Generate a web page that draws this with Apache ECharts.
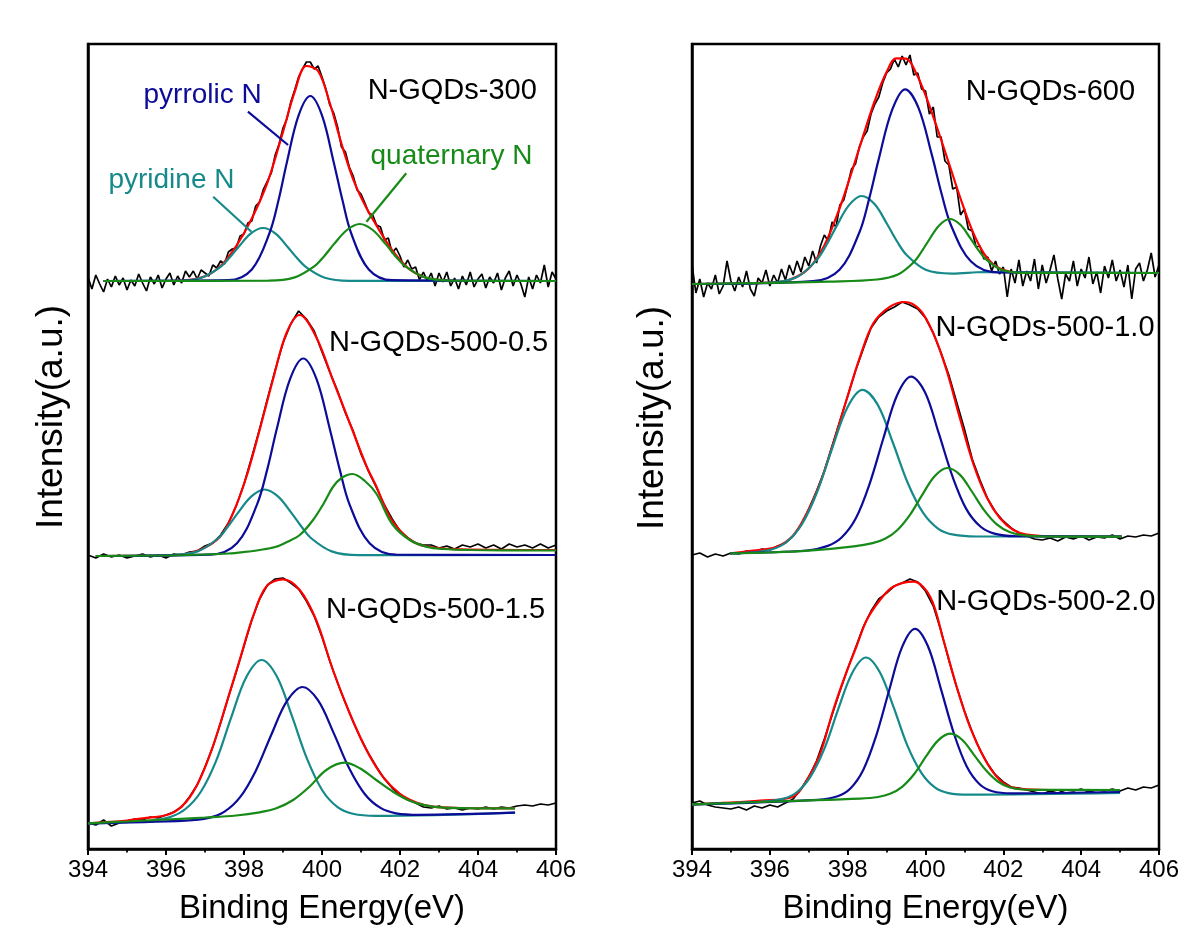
<!DOCTYPE html>
<html><head><meta charset="utf-8">
<script src="https://cdn.jsdelivr.net/npm/echarts@6/dist/echarts.min.js"></script>
<style>html,body{margin:0;padding:0;background:#fff}#c{width:1184px;height:933px}</style>
</head><body><div id="c"></div>
<script>
// ---------- energy grids (eV) ----------
const energyFine = [394,394.1,394.2,394.3,394.4,394.5,394.6,394.7,394.8,394.9,395,395.1,395.2,395.3,395.4,395.5,395.6,395.7,395.8,395.9,396,396.1,396.2,396.3,396.4,396.5,396.6,396.7,396.8,396.9,397,397.1,397.2,397.3,397.4,397.5,397.6,397.7,397.8,397.9,398,398.1,398.2,398.3,398.4,398.5,398.6,398.7,398.8,398.9,399,399.1,399.2,399.3,399.4,399.5,399.6,399.7,399.8,399.9,400,400.1,400.2,400.3,400.4,400.5,400.6,400.7,400.8,400.9,401,401.1,401.2,401.3,401.4,401.5,401.6,401.7,401.8,401.9,402,402.1,402.2,402.3,402.4,402.5,402.6,402.7,402.8,402.9,403,403.1,403.2,403.3,403.4,403.5,403.6,403.7,403.8,403.9,404,404.1,404.2,404.3,404.4,404.5,404.6,404.7,404.8,404.9,405,405.1,405.2,405.3,405.4,405.5,405.6,405.7,405.8,405.9,406];
const energyCoarse = [394,394.2,394.4,394.6,394.8,395,395.2,395.4,395.6,395.8,396,396.2,396.4,396.6,396.8,397,397.2,397.4,397.6,397.8,398,398.2,398.4,398.6,398.8,399,399.2,399.4,399.6,399.8,400,400.2,400.4,400.6,400.8,401,401.2,401.4,401.6,401.8,402,402.2,402.4,402.6,402.8,403,403.2,403.4,403.6,403.8,404,404.2,404.4,404.6,404.8,405,405.2,405.4,405.6,405.8,406];
const xTicks = [394,396,398,400,402,404,406];

// ---------- N-GQDs-300 (left, top) ----------
const n300Raw = [572,560,574,565,557,570,562,573,564,571,559,569,563,575,566,558,572,565,574,561,570,576,564,573,566,578,572,578,570,579,576,573,584,581,588,585,597,600,601,613,615,626,628,643,647,660,668,676,694,705,721,730,747,759,772,780,787,787,780,783,772,760,744,736,722,702,697,682,673,659,655,646,636,634,624,622,609,611,596,601,593,582,589,580,582,569,577,568,576,563,576,567,577,563,571,560,573,564,577,562,570,575,561,572,566,576,559,571,578,563,574,565,552,572,560,574,566,584,562,577,570];
const n300Fit = [[394.4,568],[396.0,568.0],[396.5,568.6],[397.0,572.7],[397.4,583.0],[397.8,602.9],[398.2,630.5],[398.6,666.3],[399.0,717.1],[399.3,757.2],[399.6,783.0],[399.9,778.0],[400.2,746.0],[400.5,705.3],[400.8,669.6],[401.1,643.9],[401.4,623.3],[401.8,598.8],[402.2,581.2],[402.6,572.3],[403.0,569.1],[403.5,568],[406,568]];
const n300Pyridine = [[394.4,568],[396.28,568.2],[396.91,571.3],[397.38,581.6],[397.62,590.9],[397.86,602.0],[398.17,615.4],[398.49,621],[398.81,615.4],[399.12,602.0],[399.36,590.9],[399.60,581.6],[400.07,571.3],[400.70,568.2],[406,568]];
const n300Pyrrolic = [[394.4,568],[397.60,568.8],[398.20,579.6],[398.65,615.5],[398.88,647.9],[399.10,686.8],[399.40,733.6],[399.70,753],[400.00,733.6],[400.30,686.8],[400.53,647.9],[400.75,615.5],[401.20,579.6],[401.80,568.8],[406,568]];
const n300Quaternary = [[394.4,568],[398.63,568.3],[399.30,571.6],[399.80,582.6],[400.05,592.6],[400.30,604.6],[400.64,619.0],[400.97,625],[401.30,619.0],[401.64,604.6],[401.89,592.6],[402.14,582.6],[402.64,571.6],[403.31,568.3],[406,568]];

// ---------- N-GQDs-500-0.5 (left, middle) ----------
const n500a05Raw = [294,291,295,292,294,291,293,295,292,294,291,295,294,297,298,303,306,314,326,343,365,392,420,450,479,506,525,538,530,518,497,477,458,436,418,395,377,361,344,330,318,311,306,304,304,301,303,300,304,302,305,301,304,300,305,302,304,301,305,301,304];
const n500a05Fit = [[394.2,293],[395.5,293.3],[396.26,294],[396.86,299],[397.38,312],[397.72,336],[398.06,372],[398.4,419],[398.74,469],[399.09,516],[399.43,534],[399.85,512],[400.28,469],[400.71,426],[401.14,383],[401.4,362],[401.56,347],[401.82,327],[402.25,309.5],[402.68,302.5],[403.53,299.7],[406,299]];
const n500a05Pyridine = [[394.2,293],[396.12,293.8],[396.81,297.6],[397.33,310.5],[397.58,322.0],[397.84,335.9],[398.19,352.6],[398.53,359.5],[398.87,352.6],[399.22,335.9],[399.48,322.0],[399.73,310.5],[400.25,297.6],[400.94,293.8],[406,294]];
const n500a05Pyrrolic = [[394.2,293],[397.14,294.4],[397.82,305.8],[398.33,344.1],[398.59,378.6],[398.84,420.0],[399.18,469.8],[399.52,490.5],[399.86,469.8],[400.20,420.0],[400.46,378.6],[400.71,344.1],[401.22,305.8],[401.90,294.4],[406,294]];
const n500a05Quaternary = [[394.2,293],[396.0,293.5],[397.0,294.5],[397.6,295.5],[398.0,297],[398.4,299],[398.8,302],[399.1,307],[399.43,314],[399.77,329],[400.05,346],[400.28,362],[400.5,371],[400.78,375],[401.1,368],[401.4,355],[401.8,325],[402.25,309],[402.7,302],[403.1,300],[403.8,299],[406,298.5]];

// ---------- N-GQDs-500-1.5 (left, bottom) ----------
const n500a15Raw = [26,24,29,23,26,28,30,29,32,31,34,37,42,52,64,82,102,126,152,177,203,229,250,264,270,271,266,260,248,233,212,188,166,146,127,110,95,82,70,61,54,49,46,42,41,43,40,41,39,41,40,42,40,42,41,43,44,43,45,44,46];
const n500a15Fit = [[394,25.7],[395,28.5],[395.4,30.7],[396.1,35],[396.52,47.3],[396.86,69],[397.2,102.3],[397.55,145.7],[397.89,189],[398.23,232.3],[398.57,262.3],[399.0,269.7],[399.43,259],[399.85,229],[400.28,179],[400.71,135.7],[401.14,99],[401.56,72.3],[401.99,55.5],[402.42,46.6],[402.85,42.3],[403.53,41],[404.95,40.7]];
const n500a15Pyridine = [[394,25.7],[395.53,28],[396.11,32],[396.50,40],[396.89,57],[397.28,87.6],[397.67,131.3],[398.06,171.9],[398.45,189],[398.84,172.7],[399.23,132.8],[399.62,89.8],[400.01,58.5],[400.40,41.8],[400.79,35.2],[401.38,33.1],[404.95,36.3]];
const n500a15Pyrrolic = [[394,25.7],[396.5,28.4],[397.1,31.1],[397.5,37.3],[397.9,51.8],[398.3,78.1],[398.7,114.3],[399.1,147.8],[399.5,162],[399.9,148.6],[400.3,115.9],[400.7,80.5],[401.1,54.8],[401.5,41.1],[401.9,35.7],[402.5,34.2],[404.95,36.3]];
const n500a15Quaternary = [[394,25.7],[395,27.5],[396,29.5],[397,31.5],[397.8,33.5],[398.4,36.7],[398.83,40.7],[399.26,49],[399.68,62.3],[400.11,79],[400.58,86.3],[400.97,80.7],[401.39,69],[401.82,57.3],[402.25,48.3],[402.68,43.3],[403.1,41.3],[404.0,40.7],[404.95,40.7]];

// ---------- N-GQDs-600 (right, top) ----------
const n600Raw = [585,556,570,552,566,560,574,555,563,588,568,558,572,562,578,560,553,571,566,579,563,574,566,580,569,584,574,588,577,592,583,598,586,603,614,608,627,622,644,649,664,680,685,702,712,718,735,745,752,766,776,780,790,782,793,784,794,774,776,760,758,735,742,712,712,688,684,660,662,634,640,620,618,602,603,590,592,578,588,575,582,552,580,566,589,563,578,568,590,560,584,566,579,594,570,550,575,568,588,563,580,571,592,565,577,556,583,571,589,568,579,562,584,550,580,586,568,579,596,572,584];
const n600Fit = [[394,565],[396.0,566.4],[396.5,569.1],[397.0,580.6],[397.4,603.6],[397.8,641.5],[398.1,676.5],[398.4,713.4],[398.7,748.5],[399.0,776.9],[399.25,790.6],[399.5,790.4],[399.75,776.6],[400.0,753.9],[400.3,721],[400.6,686],[400.9,650.5],[401.2,618.6],[401.5,595.6],[401.8,583],[402.2,577],[402.6,576],[406,576]];
const n600Pyridine = [[394,565],[396.04,566.5],[396.70,572.0],[397.20,588.9],[397.45,603.8],[397.70,621.9],[398.03,643.6],[398.36,653.0],[398.69,644.9],[399.02,624.5],[399.27,607.5],[399.52,593.7],[400.02,578.9],[400.68,575.4],[401.5,577],[406,576]];
const n600Pyrrolic = [[394,565],[397.11,567.8],[397.79,579.3],[398.30,616.5],[398.55,649.9],[398.80,690.1],[399.14,738.8],[399.48,759.7],[399.82,741.2],[400.16,694.6],[400.41,655.8],[400.66,623.3],[401.17,587.4],[401.85,576.6],[406,576]];
const n600Quaternary = [[394,565],[396,566.1],[397.5,567.3],[398.76,569.5],[399.29,574.4],[399.69,586.5],[399.89,596.9],[400.09,609.0],[400.35,623.6],[400.62,630.0],[400.89,624.5],[401.15,610.9],[401.35,599.4],[401.55,589.8],[401.95,579.2],[402.48,576.1],[406,576]];

// ---------- N-GQDs-500-1.0 (right, middle) ----------
const n500a10Raw = [294,296,292,295,293,296,295,298,297,300,299,303,306,313,324,340,358,378,403,428,453,478,500,521,532,538,542,547,544,540,531,516,496,474,447,420,390,369,350,337,328,321,316,313,310,309,311,308,312,310,313,309,312,311,314,310,313,312,314,313,316];
const n500a10Fit = [[394.98,295.7],[395.58,298.3],[396.18,302.3],[396.6,313.5],[396.95,335.7],[397.29,365.7],[397.63,405.7],[397.97,449],[398.32,492.3],[398.66,525.7],[399.09,542.3],[399.47,547],[399.86,539],[400.2,515.7],[400.54,479],[400.89,430],[401.23,385],[401.57,352],[401.91,331],[402.26,319],[402.6,314.5],[403.46,312.5],[405.04,312.5]];
const n500a10Pyridine = [[394.98,295.7],[395.46,296.4],[396.04,299.5],[396.43,307.0],[396.82,324.5],[397.21,356.5],[397.60,400.4],[397.99,441.3],[398.38,459.1],[398.77,444.4],[399.16,406.5],[399.55,365.5],[399.94,336.1],[400.33,320.2],[400.72,314.3],[401.31,312.5],[405.04,312.5]];
const n500a10Pyrrolic = [[394.98,295.7],[396.96,298.5],[397.49,303.1],[397.85,311.7],[398.21,330.7],[398.56,364.7],[398.92,411.0],[399.27,453.8],[399.63,472.4],[399.99,456.6],[400.34,415.8],[400.70,371.8],[401.05,339.9],[401.41,322.5],[401.77,315.4],[402.30,312.8],[405.04,312.5]];
const n500a10Quaternary = [[394.98,295.7],[396,296.5],[397,298.3],[398.16,302.7],[398.64,305.9],[398.96,310.2],[399.28,319.0],[399.60,334.1],[399.92,354.4],[400.24,373.0],[400.56,381.0],[400.88,374.4],[401.20,357.0],[401.52,338.1],[401.84,324.3],[402.16,316.9],[402.48,313.8],[402.96,312.6],[405.04,312.3]];

// ---------- N-GQDs-500-2.0 (right, bottom) ----------
const n500a20Raw = [46,48,44,42,41,40,42,39,43,41,44,42,46,50,60,72,88,110,134,158,180,201,222,238,250,256,263,266,270,267,258,243,218,189,162,138,117,99,85,74,67,62,61,59,57,55,58,56,59,58,60,57,59,58,60,58,61,59,62,61,64];
const n500a20Fit = [[394,44.7],[395,46.3],[395.75,48.3],[396.6,52.3],[396.95,69],[397.29,95],[397.63,139],[397.97,177],[398.23,203],[398.49,229],[398.83,249],[399.17,262.3],[399.69,267.3],[400.12,252.3],[400.46,209],[400.8,162.3],[401.14,122.3],[401.49,92.3],[401.83,72.3],[402.17,62.3],[402.6,59.7],[403.46,59],[405,59]];
const n500a20Pyridine = [[394,44.7],[395.82,47.4],[396.35,50.4],[396.70,57.0],[397.05,72.7],[397.41,101.1],[397.76,140.1],[398.12,176.3],[398.47,191.5],[398.82,177.2],[399.18,141.9],[399.53,103.9],[399.89,76.4],[400.24,61.6],[400.59,55.9],[401.13,54.3],[405,56]];
const n500a20Pyrrolic = [[394,44.7],[397.24,49.2],[397.74,52.7],[398.07,60.5],[398.40,79.0],[398.73,112.9],[399.07,159.2],[399.40,202.1],[399.73,220.2],[400.06,203.0],[400.39,160.9],[400.73,115.5],[401.06,82.5],[401.39,64.8],[401.72,57.8],[402.22,55.7],[405,57]];
const n500a20Quaternary = [[394,44.7],[396.6,48.1],[398.32,50.4],[398.78,52.0],[399.09,55.2],[399.40,62.2],[399.71,75.0],[400.01,92.3],[400.32,108.4],[400.63,115.3],[400.94,109.2],[401.25,93.9],[401.56,78.5],[401.86,67.5],[402.17,61.5],[402.48,59.5],[402.94,59.2],[405,59]];

// ---------- text ----------
const sampleNames = ['N-GQDs-300','N-GQDs-500-0.5','N-GQDs-500-1.5','N-GQDs-600','N-GQDs-500-1.0','N-GQDs-500-2.0'];
const componentNames = ['pyridine N','pyrrolic N','quaternary N'];
const xTitle = 'Binding Energy(eV)';
const yTitle = 'Intensity(a.u.)';

// label anchor points (data coords: [eV, intensity])
const sampleLabelAt = [[403.34,758],[402.99,506.5],[402.91,239],[403.21,757.3],[403.07,520.7],[403.09,247.3]];
const componentLabelAt = [[396.14,669],[396.94,754],[403.32,692.5]];
const leaderLines = [
  [[397.21,652.3],[398.19,617.3]],
  [[398.10,737.3],[399.13,704]],
  [[402.16,675.7],[401.14,627.3]]
];

// ---------- styles ----------
const FONT = '"Liberation Sans", Arial, Helvetica, sans-serif';
const C_RAW = '#000000', C_FIT = '#ff0000', C_PYRIDINE = '#16898a', C_PYRROLIC = '#0c0c98', C_QUAT = '#178a17';
const compColors = [C_PYRIDINE, C_PYRROLIC, C_QUAT];

const spectra = [
  {g:0, x: energyFine,   raw: n300Raw,    fit: n300Fit,    comps: [n300Pyridine, n300Pyrrolic, n300Quaternary]},
  {g:0, x: energyCoarse, raw: n500a05Raw, fit: n500a05Fit, comps: [n500a05Pyridine, n500a05Pyrrolic, n500a05Quaternary]},
  {g:0, x: energyCoarse, raw: n500a15Raw, fit: n500a15Fit, comps: [n500a15Pyridine, n500a15Pyrrolic, n500a15Quaternary]},
  {g:1, x: energyFine,   raw: n600Raw,    fit: n600Fit,    comps: [n600Pyridine, n600Pyrrolic, n600Quaternary]},
  {g:1, x: energyCoarse, raw: n500a10Raw, fit: n500a10Fit, comps: [n500a10Pyridine, n500a10Pyrrolic, n500a10Quaternary]},
  {g:1, x: energyCoarse, raw: n500a20Raw, fit: n500a20Fit, comps: [n500a20Pyridine, n500a20Pyrrolic, n500a20Quaternary]}
];

function line(data, color, g, z, smooth, width) {
  return {type:'line', xAxisIndex:g, yAxisIndex:g, data, symbol:'none', showSymbol:false,
    smooth: smooth, lineStyle:{color, width, opacity:1}, itemStyle:{color}, z, silent:true, animation:false};
}
function textMark(pos, text, color, size, g) {
  return {type:'scatter', xAxisIndex:g, yAxisIndex:g, data:[pos], symbolSize:1, z:20, silent:true,
    itemStyle:{color:'rgba(0,0,0,0)', opacity:1},
    label:{show:true, position:'inside', formatter:text, color, opacity:1, fontSize:size, fontFamily:FONT,
      align:'center', verticalAlign:'middle', textBorderWidth:0}};
}

const series = [];
spectra.forEach(s => {
  series.push(line(s.x.map((e,i)=>[e, s.raw[i]]), C_RAW, s.g, 1, false, 1.7));
  series.push(line(s.fit, C_FIT, s.g, 2, 0.35, 2.2));
  s.comps.forEach((c,k) => series.push(line(c, compColors[k], s.g, 3+k, 0.35, 2.2)));
});
leaderLines.forEach((l,k) => series.push(line(l, compColors[k], 0, 8, false, 2.2)));
sampleNames.forEach((n,i) => series.push(textMark(sampleLabelAt[i], n, '#000000', 29, i < 3 ? 0 : 1)));
componentNames.forEach((n,k) => series.push(textMark(componentLabelAt[k], n, compColors[k], 28, 0)));

function xAxis(g) {
  return {type:'value', gridIndex:g, min:394, max:406, interval:2,
    axisLine:{show:true, onZero:false, lineStyle:{color:'#000', width:2.5}},
    axisTick:{show:true, inside:false, length:6, lineStyle:{color:'#000', width:2}},
    minorTick:{show:true, splitNumber:2, length:3.5, lineStyle:{color:'#000', width:1.8}},
    axisLabel:{show:true, margin:9, color:'#000', fontSize:24, fontFamily:FONT,
      formatter: v => xTicks.includes(v) ? String(v) : ''},
    splitLine:{show:false}, minorSplitLine:{show:false},
    name:xTitle, nameLocation:'middle', nameGap:43,
    nameTextStyle:{color:'#000', fontSize:33, fontFamily:FONT}};
}
function yAxis(g) {
  return {type:'value', gridIndex:g, min:0, max:805,
    axisLine:{show:true, onZero:false, lineStyle:{color:'#000', width:2.5}},
    axisTick:{show:false}, axisLabel:{show:false}, splitLine:{show:false}};
}

const chart = echarts.init(document.getElementById('c'), null, {renderer:'canvas'});
chart.setOption({
  animation:false,
  backgroundColor:'#ffffff',
  grid:[
    {left:88, top:44, width:468, height:805, show:true, borderColor:'#000', borderWidth:2.5, backgroundColor:'rgba(0,0,0,0)', containLabel:false, outerBoundsMode:'none'},
    {left:692, top:44, width:467, height:805, show:true, borderColor:'#000', borderWidth:2.5, backgroundColor:'rgba(0,0,0,0)', containLabel:false, outerBoundsMode:'none'}
  ],
  xAxis:[xAxis(0), xAxis(1)],
  yAxis:[yAxis(0), yAxis(1)],
  series,
  graphic:[
    {type:'text', x:52, y:417, rotation:Math.PI/2, silent:true,
      style:{text:yTitle, fill:'#000', font:'37px ' + FONT, textAlign:'center', textVerticalAlign:'middle'}},
    {type:'text', x:653, y:418, rotation:Math.PI/2, silent:true,
      style:{text:yTitle, fill:'#000', font:'37px ' + FONT, textAlign:'center', textVerticalAlign:'middle'}}
  ]
});
</script>
</body></html>
